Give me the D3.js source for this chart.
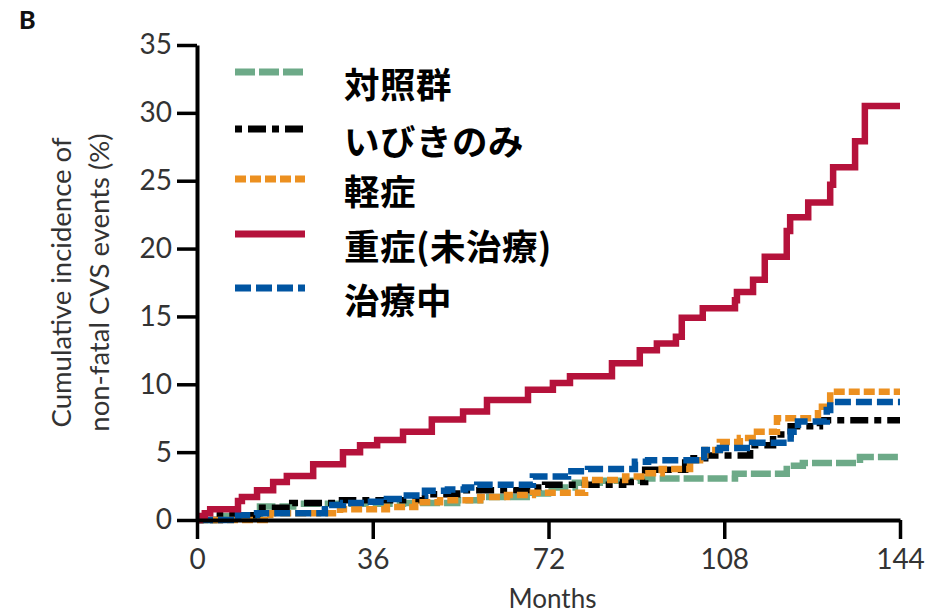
<!DOCTYPE html>
<html>
<head>
<meta charset="utf-8">
<script src="https://cdn.jsdelivr.net/npm/d3@7"></script>
<style>
  html, body { margin: 0; padding: 0; background: #fff; }
  svg { display: block; }
</style>
</head>
<body>
<svg id="chart" width="946" height="615"></svg>
<script>
// Kaplan–Meier style cumulative incidence curves (months, %)
const controlMonths = [0, 4.7, 12.9, 19.7, 42.2, 53.3, 58, 68.8, 71.9, 77.4, 82.5, 90.7, 110.2, 120.8, 124.1, 135.8, 144];
const controlPct    = [0, 0.3, 1.0, 1.2, 1.25, 1.45, 1.7, 1.95, 2.4, 2.75, 2.9, 3.05, 3.4, 4.0, 4.2, 4.65, 4.65];

const snoreMonths = [0, 4.7, 12.5, 19.5, 29.7, 46.7, 53.3, 67.6, 71.3, 87.3, 91.8, 100, 104.1, 113.3, 118, 121.6, 127.6, 144];
const snorePct    = [0, 0.35, 0.9, 1.25, 1.45, 1.9, 2.2, 2.4, 2.6, 2.8, 3.7, 4.55, 4.75, 5.5, 6.3, 6.9, 7.35, 7.35];

const mildMonths = [0, 15, 29.3, 38.9, 44.7, 49.8, 58, 63.5, 68.8, 79.5, 87.7, 91.8, 95.2, 101, 104.1, 107.1, 111.2, 114.7, 118.8, 127.2, 129.7, 144];
const mildPct    = [0, 0.5, 0.8, 0.95, 1.3, 1.45, 1.7, 1.85, 2.0, 2.95, 3.2, 3.45, 3.75, 4.4, 5.15, 5.75, 6.05, 6.5, 7.5, 8.35, 9.45, 9.45];

const severeMonths = [0, 0.6, 1.6, 2.7, 8.4, 9.2, 12.3, 15.6, 18.4, 23.8, 29.9, 33.4, 36.9, 42.2, 48.1, 54.5, 59.4, 67.8, 72.9, 76.4, 85, 90.7, 94.2, 98.1, 99.3, 103.6, 110.2, 110.6, 113.9, 116.3, 120.8, 121.5, 125.2, 129.7, 130.3, 134.8, 136.8, 144];
const severePct    = [0, 0.3, 0.5, 0.8, 1.4, 1.7, 2.2, 2.8, 3.25, 4.1, 5.0, 5.5, 5.9, 6.5, 7.4, 8.0, 8.85, 9.6, 10.1, 10.6, 11.55, 12.5, 13.0, 13.5, 14.9, 15.6, 16.2, 16.8, 17.7, 19.4, 21.3, 22.3, 23.4, 24.7, 26.0, 27.9, 30.5, 30.5];

const treatedMonths = [0, 8.4, 12.3, 26.2, 29.9, 34.4, 38.9, 42.2, 46.7, 51.4, 54.9, 57.4, 68.8, 76, 80.1, 89.7, 92.4, 103.9, 107.1, 113.7, 121.6, 123.1, 129, 129.7, 144];
const treatedPct    = [0, 0.35, 0.5, 1.1, 1.25, 1.35, 1.55, 1.8, 2.15, 2.25, 2.4, 2.6, 3.2, 3.6, 3.75, 4.3, 4.4, 5.15, 5.3, 5.7, 6.5, 7.25, 8.1, 8.7, 8.7];

const xTicks = [0, 36, 72, 108, 144];
const yTicks = [0, 5, 10, 15, 20, 25, 30, 35];

const seriesNames = ["対照群", "いびきのみ", "軽症", "重症(未治療)", "治療中"];

const series = [
  { name: seriesNames[0], t: controlMonths, v: controlPct, color: "#6daa88", dash: "20,4" },
  { name: seriesNames[1], t: snoreMonths,   v: snorePct,   color: "#000000", dash: "7,6,18,6" },
  { name: seriesNames[2], t: mildMonths,    v: mildPct,    color: "#ec9020", dash: "11,4" },
  { name: seriesNames[3], t: severeMonths,  v: severePct,  color: "#b5123b", dash: null },
  { name: seriesNames[4], t: treatedMonths, v: treatedPct, color: "#0055a2", dash: "16,5" }
];
// drawing order: lower curves first, red on top
const drawOrder = [0, 1, 2, 4, 3];

const svg = d3.select("#chart");
const x = d3.scaleLinear().domain([0, 144]).range([197, 900]);
const y = d3.scaleLinear().domain([0, 35]).range([520, 45]);

const axisFont = "Lato, 'Open Sans', sans-serif";
const textColor = "#333";

// panel letter
svg.append("text")
  .attr("x", 19).attr("y", 29)
  .attr("font-family", axisFont).attr("font-weight", 900)
  .attr("font-size", 25).attr("fill", "#111")
  .text("B");

// curves
const line = d3.line()
  .x(d => x(d[0])).y(d => y(d[1]))
  .curve(d3.curveStepAfter);

const curves = svg.append("g").attr("fill", "none");
drawOrder.forEach(i => {
  const s = series[i];
  const pts = s.t.map((t, k) => [t, s.v[k]]);
  curves.append("path")
    .attr("d", line(pts))
    .attr("stroke", s.color)
    .attr("stroke-width", 6.5)
    .attr("stroke-dasharray", s.dash)
    .attr("stroke-linejoin", "miter");
});

// axes
const yAxis = d3.axisLeft(y).tickValues(yTicks).tickSize(20).tickSizeOuter(0).tickPadding(5);
const xAxis = d3.axisBottom(x).tickValues(xTicks).tickSize(19).tickSizeOuter(0).tickPadding(10);

const gy = svg.append("g").attr("transform", `translate(${x(0)},0)`).call(yAxis);
const gx = svg.append("g").attr("transform", `translate(0,${y(0)})`).call(xAxis);

[gx, gy].forEach(g => {
  g.select(".domain").attr("stroke", "#000").attr("stroke-width", 4);
  g.selectAll(".tick line").attr("stroke", "#000").attr("stroke-width", 3.5);
  g.selectAll(".tick text")
    .attr("font-family", axisFont).attr("font-size", 28)
    .attr("fill", textColor);
});

// axis titles
svg.append("text")
  .attr("x", x(72) + 4).attr("y", 608)
  .attr("text-anchor", "middle")
  .attr("font-family", axisFont).attr("font-size", 26)
  .attr("fill", textColor)
  .text("Months");

const yTitle = svg.append("text")
  .attr("transform", `translate(71,${(y(0) + y(35)) / 2}) rotate(-90)`)
  .attr("text-anchor", "middle")
  .attr("font-family", axisFont).attr("font-size", 27.5)
  .attr("fill", textColor);
yTitle.append("tspan").attr("x", 0).attr("dy", 0).text("Cumulative incidence of");
yTitle.append("tspan").attr("x", 0).attr("dy", 38).text("non-fatal CVS events (%)");

// legend
const legendY = [72, 129, 179, 234, 288];
const legend = svg.append("g");
series.forEach((s, i) => {
  legend.append("line")
    .attr("x1", 235).attr("x2", 305)
    .attr("y1", legendY[i]).attr("y2", legendY[i])
    .attr("stroke", s.color).attr("stroke-width", 7)
    .attr("stroke-dasharray", s.dash);
  legend.append("text")
    .attr("x", 344).attr("y", legendY[i] + 10)
    .attr("dominant-baseline", "central")
    .attr("font-family", "'Noto Sans CJK JP', sans-serif")
    .attr("font-weight", 700).attr("font-size", 35.5)
    .attr("letter-spacing", 0.5)
    .attr("fill", "#000")
    .text(s.name);
});
</script>
</body>
</html>
